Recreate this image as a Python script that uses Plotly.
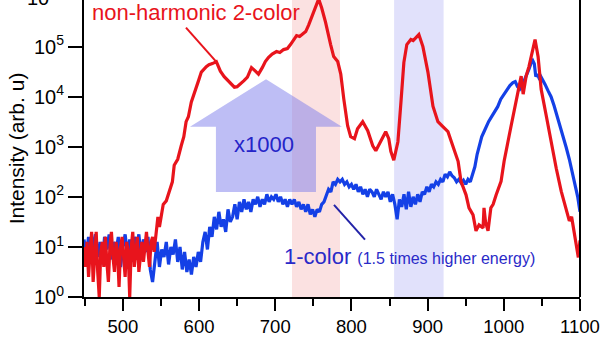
import numpy as np
import plotly.graph_objects as go

# ---------------- data (wavelength nm, log10 intensity) ----------------
red_x = [449, 451, 453, 455, 457, 459, 461, 463, 465, 467, 469, 471, 473, 475, 477, 479,
         481, 483, 485, 487, 489, 491, 493, 495, 497, 499, 501, 503, 505, 507, 509, 511,
         513, 515, 517, 519, 521, 523, 525, 527, 529, 531, 533, 535, 537, 539, 541,
         543.7, 546, 548, 550.3, 553, 557, 560, 562, 565, 567.4, 572, 576.6, 580, 583, 586,
         589.8, 593, 596.4, 600, 603, 606, 609.5, 613, 617.5, 622.7, 628, 633, 638.5, 642,
         646.4, 650, 654.3, 659, 663.5, 668.8, 674, 678, 683, 687, 691, 696, 701.7, 706, 711,
         716, 720, 724, 728, 732, 736, 740, 743.8, 749, 754.3, 757, 761, 766, 772.7, 776.7,
         782, 786, 790, 795, 799, 804, 808, 814.8, 821.4, 828, 832, 838.5, 845, 849, 851.7,
         855.6, 861, 865, 868.8, 872.7, 878, 881, 884.6, 888.5, 893.8, 900.4, 907, 913.5, 920,
         926.7, 933, 940, 943.8, 950.4, 954.3, 959.6, 963.5, 967.5, 972.8, 974, 976, 979.3,
         983, 986, 990, 996.4, 1000.4, 1004, 1007, 1010, 1013.5, 1018.8, 1022.8, 1025.4, 1029.3,
         1033, 1036, 1038.5, 1041, 1045, 1049, 1055.7, 1062, 1068.8, 1075.4, 1082, 1086, 1089,
         1091, 1095, 1097.8, 1100]
red_log = [1.0, 0.6, 1.1, 0.4, 0.9, 1.3, 0.3, 0.8, 1.3, 0.5, 0.0, 0.9, 1.1, 0.6, 1.2, 0.7,
           0.3, 1.0, 1.3, 0.8, 0.5, 1.1, 0.9, 0.2, 1.0, 1.2, 0.7, 0.4, 1.1, 0.9, 0.0, 1.0,
           1.3, 0.6, 0.9, 1.2, 0.5, 0.8, 1.1, 0.7, 1.0, 1.3, 0.9, 0.6, 1.1, 1.2, 0.9,
           1.25, 1.6, 1.4, 1.58, 1.85, 1.92, 2.05, 2.17, 2.3, 2.63, 2.75, 3.02, 3.2, 3.5, 3.6,
           3.89, 4.05, 4.21, 4.35, 4.49, 4.55, 4.6, 4.64, 4.66, 4.70, 4.51, 4.4, 4.31, 4.24,
           4.19, 4.2, 4.25, 4.32, 4.39, 4.58, 4.51, 4.45, 4.58, 4.7, 4.78, 4.85, 4.9, 4.88, 4.94,
           4.96, 5.04, 5.12, 5.22, 5.2, 5.26, 5.3, 5.43, 5.63, 5.85, 5.95, 5.77, 5.49, 5.04, 4.8,
           4.7, 4.45, 3.95, 3.42, 3.2, 3.16, 3.36, 3.5, 3.32, 3.02, 2.92, 3.12, 3.3, 3.16, 2.91,
           2.73, 3.1, 3.89, 4.68, 5.04, 5.14, 5.12, 5.18, 5.24, 5.0, 4.49, 3.81, 3.5, 3.4,
           3.3, 3.02, 2.71, 2.31, 2.04, 1.78, 1.64, 1.32, 1.44, 1.38, 1.78, 1.5, 1.32,
           1.78, 1.85, 2.04, 2.31, 2.71, 2.95, 3.22, 3.45, 3.7, 4.09, 4.41, 4.05, 4.41,
           4.6, 4.8, 4.95, 5.14, 4.8, 4.15, 3.62, 3.1, 2.57, 2.11, 1.72, 1.52, 1.6,
           1.38, 1.05, 0.79, 1.13]

blue_x = list(range(449, 960, 3)) + [962, 965, 968, 971, 974, 977, 980, 984, 988, 992, 996,
                                     1000, 1004, 1008, 1012, 1015, 1018, 1021, 1024, 1027,
                                     1030, 1033, 1036, 1038, 1040, 1042, 1044, 1046, 1048,
                                     1051, 1054, 1058, 1062, 1066, 1070, 1074, 1078, 1082,
                                     1086, 1090, 1094, 1097, 1100]
blue_log = [1.15, 0.85, 1.2, 0.7, 1.05, 1.25, 0.8, 1.1, 0.65, 1.2, 0.95, 1.25, 0.75, 1.1, 0.9,
            1.2, 0.6, 1.0, 1.25, 0.85, 1.15, 0.7, 1.2, 1.0, 1.25, 0.8, 1.15, 0.9, 1.2, 0.55,
            0.3, 0.75, 1.1, 0.6, 0.95, 0.8, 1.1, 0.65, 1.0, 0.85, 1.15, 0.7, 1.0, 0.55, 0.9,
            0.5, 0.75, 0.45, 0.8, 0.6, 0.9, 0.7, 1.1, 1.3, 0.95, 1.4, 1.2, 1.6, 1.35, 1.7,
            1.4, 1.55, 1.3, 1.75, 1.5, 1.6, 1.85, 1.55, 1.9, 1.7, 1.95, 1.75, 1.9, 1.7, 1.95,
            1.85, 2.0, 1.8, 1.95, 1.85, 2.05, 1.9, 2.0, 1.95, 2.05, 1.9, 2.0, 1.85, 1.95, 1.8,
            1.95, 1.85, 1.95, 1.8, 1.9, 1.75, 1.85, 1.7, 1.85, 1.65, 1.75, 1.6, 1.75, 1.7,
            1.85, 1.9, 2.05, 2.15, 2.1, 2.3, 2.25, 2.35, 2.3, 2.35, 2.25, 2.3, 2.2, 2.25, 2.15,
            2.25, 2.1, 2.2, 2.05, 2.15, 2.0, 2.15, 2.1, 2.0, 2.15, 2.05, 1.95, 2.1, 2.0, 2.1,
            1.9, 2.05, 1.85, 1.55, 1.95, 1.8, 2.05, 1.75, 2.1, 1.8, 2.0, 1.85, 2.05, 1.9, 2.1,
            2.05, 2.2, 2.1, 2.25, 2.2, 2.3, 2.25, 2.35, 2.3, 2.45, 2.4, 2.5, 2.42, 2.38, 2.3,
            2.35, 2.28, 2.33, 2.25, 2.35, 2.3, 2.45,
            2.6, 2.85, 3.05, 3.2, 3.3, 3.42, 3.5, 3.6, 3.7, 3.8, 3.95, 4.05, 4.15, 4.22, 4.28,
            4.3, 4.2, 4.15, 4.22, 4.32, 4.45, 4.55, 4.68, 4.72, 4.66, 4.4, 4.45, 4.38, 4.42,
            4.34, 4.25, 4.12, 4.0, 3.82, 3.62, 3.42, 3.2, 2.98, 2.75, 2.5, 2.25, 2.0, 1.7]

pink_band = [722, 785]
blue_band = [856, 921]
y_tick_exps = [0, 1, 2, 3, 4, 5]
x_tick_vals = [500, 600, 700, 800, 900, 1000, 1100]

red_y = [10 ** v for v in red_log]
blue_y = [10 ** v for v in blue_log]

RED = "#E8141C"
BLUE = "#1440E6"
FONT = "Liberation Sans, Arial, sans-serif"

fig = go.Figure()
fig.add_trace(go.Scatter(x=blue_x, y=blue_y, mode="lines",
                         line=dict(color=BLUE, width=3.2), hoverinfo="skip"))
fig.add_trace(go.Scatter(x=red_x, y=red_y, mode="lines",
                         line=dict(color=RED, width=3.2), hoverinfo="skip"))

# shaded bands
for band, col in [(pink_band, "rgba(250,215,215,0.75)"), (blue_band, "rgba(215,215,250,0.75)")]:
    fig.add_shape(type="rect", xref="x", yref="paper", x0=band[0], x1=band[1], y0=0, y1=1,
                  fillcolor=col, line_width=0, layer="below")

# big arrow (paper coords)
fig.add_shape(type="path",
              path="M 0.2137,0.5733 L 0.367,0.733 L 0.520,0.5733 L 0.4677,0.5733 "
                   "L 0.4677,0.3533 L 0.266,0.3533 L 0.266,0.5733 Z",
              xref="paper", yref="paper", fillcolor="rgba(125,125,235,0.5)",
              line_width=0, layer="below")

# pointer lines
fig.add_shape(type="line", xref="paper", yref="paper", x0=0.2056, y0=0.9067, x1=0.266, y1=0.7933,
              line=dict(color=RED, width=2))
fig.add_shape(type="line", xref="paper", yref="paper", x0=0.504, y0=0.31, x1=0.5665, y1=0.1933,
              line=dict(color="#2323A8", width=2))
# right frame line
fig.add_shape(type="line", xref="paper", yref="paper", x0=1, y0=0, x1=1, y1=1,
              line=dict(color="black", width=2))

fig.add_annotation(text="non-harmonic 2-color", xref="paper", yref="paper", x=0.0121, y=0.957,
                   xanchor="left", yanchor="middle", showarrow=False,
                   font=dict(family=FONT, size=22, color=RED))
fig.add_annotation(text="x1000", xref="paper", yref="paper", x=0.363, y=0.513,
                   xanchor="center", yanchor="middle", showarrow=False,
                   font=dict(family=FONT, size=22, color="#2424C8"))
fig.add_annotation(text="1-color <span style='font-size:16px'>(1.5 times higher energy)</span>",
                   xref="paper", yref="paper", x=0.399, y=0.135,
                   xanchor="left", yanchor="middle", showarrow=False,
                   font=dict(family=FONT, size=22, color="#2A2AC8"))
fig.add_annotation(text="10<sup>6</sup>", xref="paper", yref="paper", x=-0.05, y=1.013,
                   xanchor="right", yanchor="middle", showarrow=False,
                   font=dict(family=FONT, size=20, color="black"))

fig.update_layout(
    width=600, height=337,
    margin=dict(l=84, r=20, t=0, b=37),
    paper_bgcolor="white", plot_bgcolor="white",
    showlegend=False,
    font=dict(family=FONT, size=18, color="black"),
    xaxis=dict(range=[449, 1100], showgrid=False, zeroline=False,
               showline=True, linecolor="black", linewidth=2,
               ticks="outside", ticklen=12, tickwidth=2, tickcolor="black",
               tickvals=x_tick_vals,
               minor=dict(ticks="outside", ticklen=7, tickwidth=2, tickcolor="black", dtick=50,
                          tick0=450, showgrid=False),
               tickfont=dict(family=FONT, size=18.5)),
    yaxis=dict(type="log", range=[0, 5.93], showgrid=False, zeroline=False,
               showline=True, linecolor="black", linewidth=2,
               ticks="outside", ticklen=14, tickwidth=2, tickcolor="black",
               tickvals=[10 ** e for e in y_tick_exps],
               ticktext=["10<sup>%d</sup>" % e for e in y_tick_exps],
               tickfont=dict(family=FONT, size=20),
               title=dict(text="Intensity (arb. u)", font=dict(family=FONT, size=21), standoff=4)),
)

fig.write_html("out.html")
